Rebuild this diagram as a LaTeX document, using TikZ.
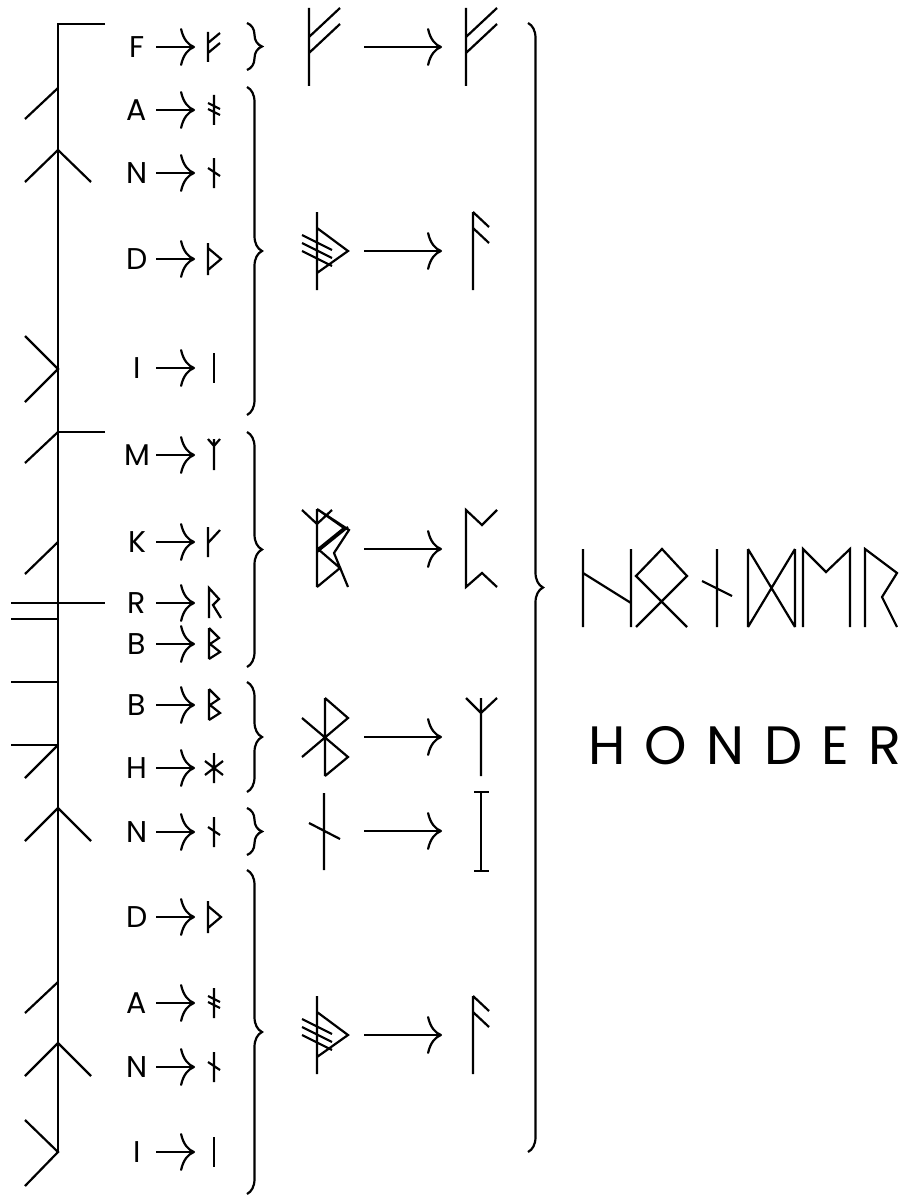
\documentclass[tikz,border=0pt]{standalone}
\usepackage{fontspec}
\setmainfont{Poppins}
\usetikzlibrary{arrows.meta}
\usetikzlibrary{decorations.pathreplacing}

\tikzset{
  lab/.style={font=\fontsize{30}{30}\selectfont, inner sep=0pt},
  arr/.style={-{To[length=15pt,width=38pt]}},
  brc/.style={decorate, decoration={brace, amplitude=15pt}},
  % small runes, origin at (213,row)
  runeF/.pic={\draw (-5,-15) -- (-5,15) (-5,-4) -- (7,-14) (-5,6) -- (7,-4);},
  runeA/.pic={\draw (1,-15) -- (1,15) (-5,-7) -- (7,-1) (-5,-1) -- (7,5);},
  runeN/.pic={\draw (1,-15) -- (1,15) (-5,-5) -- (7,3);},
  runeD/.pic={\draw (-5,-16) -- (-5,16) (-5,-11) -- (8,0) -- (-5,11);},
  runeI/.pic={\draw (1,-15) -- (1,15);},
  runeM/.pic={\draw (1,-16) -- (1,15) (-5,-16) -- (1,-9) -- (7,-16);},
  runeK/.pic={\draw (-5,-15) -- (-5,15) (-5,1) -- (7,-12);},
  runeR/.pic={\draw (-4,15) -- (-4,-15) -- (6,-4) -- (0,2) -- (8,15);},
  runeB/.pic={\draw (-4,-16) -- (-4,15) (-4,-16) -- (6,-6) -- (-3,0) -- (7,8) -- (-4,15);},
  runeH/.pic={\draw (1,-15) -- (1,15) (-8,-7) -- (10,7) (-8,7) -- (10,-7);},
  % big runes, origin at stave centre
  bigF/.pic={\draw (0,-39) -- (0,39) (0,-10) -- (31,-39) (0,6) -- (31,-23);},
  bigADNI/.pic={\draw (0,-39) -- (0,39) (0,-23) -- (31,0) -- (0,22)
    (-15,-16) -- (15,-1) (-15,-8) -- (15,7) (-15,0) -- (15,15);},
  bigAnsuz/.pic={\draw (0,-39) -- (0,39) (0,-39) -- (16,-24) (0,-23) -- (16,-8);},
  bigMKRB/.pic={\draw (0,-39) -- (0,39) (-15,-38) -- (0,-24) -- (15,-38)
    (0,-39) -- (32,-18) -- (17,5) -- (31,39)
    (0,-39) -- (27,-20) -- (1,1) -- (23,20) -- (0,39)
    (0,4) -- (31,-21);},
  bigKaun/.pic={\draw (31,-38) -- (16,-23) -- (0,-38) -- (0,39) -- (16,25) -- (31,39);},
  bigBH/.pic={\draw (0,-39) -- (0,39) (0,-39) -- (23,-19) -- (-23,20)
    (-23,-19) -- (23,20) -- (0,39);},
  bigAlgiz/.pic={\draw (0,-39) -- (0,39) (-15,-39) -- (0,-24) -- (16,-39);},
  bigNaud/.pic={\draw (0,-38) -- (0,39) (-15,-8) -- (16,8);},
  bigIsa/.pic={\draw (0,-39) -- (0,40) (-7,-39) -- (8,-39) (-7,40) -- (8,40);},
}

\begin{document}
\begin{tikzpicture}[x=1pt, y=-1pt, line width=2.2pt]
\useasboundingbox (0,0) rectangle (901,1196);

\draw (105,24) -- (58,24) -- (58,1152);
\draw (25,119) -- (58,88);
\draw (25,182) -- (58,150) -- (91,182);
\draw (25,336) -- (58,369) -- (25,402);
\draw (105,432) -- (58,432);
\draw (25,463) -- (58,432);
\draw (25,574) -- (58,542);
\draw (11,603) -- (105,603);
\draw (11,619) -- (58,619);
\draw (11,682) -- (58,682);
\draw (11,745) -- (58,745);
\draw (25,778) -- (58,745);
\draw (25,841) -- (58,808) -- (91,841);
\draw (25,1013) -- (58,982);
\draw (25,1076) -- (58,1043) -- (91,1076);
\draw (25,1120) -- (58,1152) -- (25,1186);

\foreach \y/\ltr/\rn [count=\i] in {47/F/runeF, 110/A/runeA, 173/N/runeN,
    259/D/runeD, 368/I/runeI, 455/M/runeM, 542/K/runeK, 603/R/runeR,
    644/B/runeB, 705/B/runeB, 768/H/runeH, 832/N/runeN, 917/D/runeD,
    1003/A/runeA, 1067/N/runeN, 1152/I/runeI} {
  \node[lab] (l\i) at (137,\y) {\ltr};
  \coordinate (s\i) at (156,\y);
  \coordinate (e\i) at (195,\y);
  \draw[arr] (s\i) -- (e\i);
  \pic at (213,\y) {\rn};
}

\draw[brc] (247,23) -- (247,70);
\draw[brc] (247,87) -- (247,415);
\draw[brc] (247,432) -- (247,667);
\draw[brc] (247,682) -- (247,792);
\draw[brc] (247,808) -- (247,855);
\draw[brc] (247,870) -- (247,1194);

\pic at (309,47) {bigF};
\pic at (466,47) {bigF};
\pic at (317,251) {bigADNI};
\pic at (473,251) {bigAnsuz};
\pic at (317,548) {bigMKRB};
\pic at (466,548) {bigKaun};
\pic at (325,737) {bigBH};
\pic at (481,737) {bigAlgiz};
\pic at (324,831) {bigNaud};
\pic at (481,831) {bigIsa};
\pic at (317,1035) {bigADNI};
\pic at (473,1035) {bigAnsuz};

\foreach \y [count=\j] in {47,251,549,737,831,1035} {
  \coordinate (p\j) at (364,\y);
  \coordinate (q\j) at (442,\y);
  \draw[arr] (p\j) -- (q\j);
}

\draw[brc] (528,23) -- (528,1152);

\draw (583,549) -- (583,627) (631,549) -- (631,627) (583,573) -- (631,603);
\draw (636,627) -- (687,576) -- (662,549) -- (636,576) -- (687,627);
\draw (717,549) -- (717,627) (702,581) -- (732,596);
\draw (748,549) -- (748,627) (795,549) -- (795,627)
  (748,549) -- (795,627) (748,627) -- (795,549);
\draw (803,627) -- (803,549) -- (826,572) -- (850,549) -- (850,627);
\draw (865,627) -- (865,549) -- (897,573) -- (882,597) -- (897,627);

\node[anchor=base west, inner sep=0pt,
  font=\fontsize{54}{54}\selectfont\addfontfeature{LetterSpace=36}] (word) at (587,764) {HONDER};
\end{tikzpicture}
\end{document}
